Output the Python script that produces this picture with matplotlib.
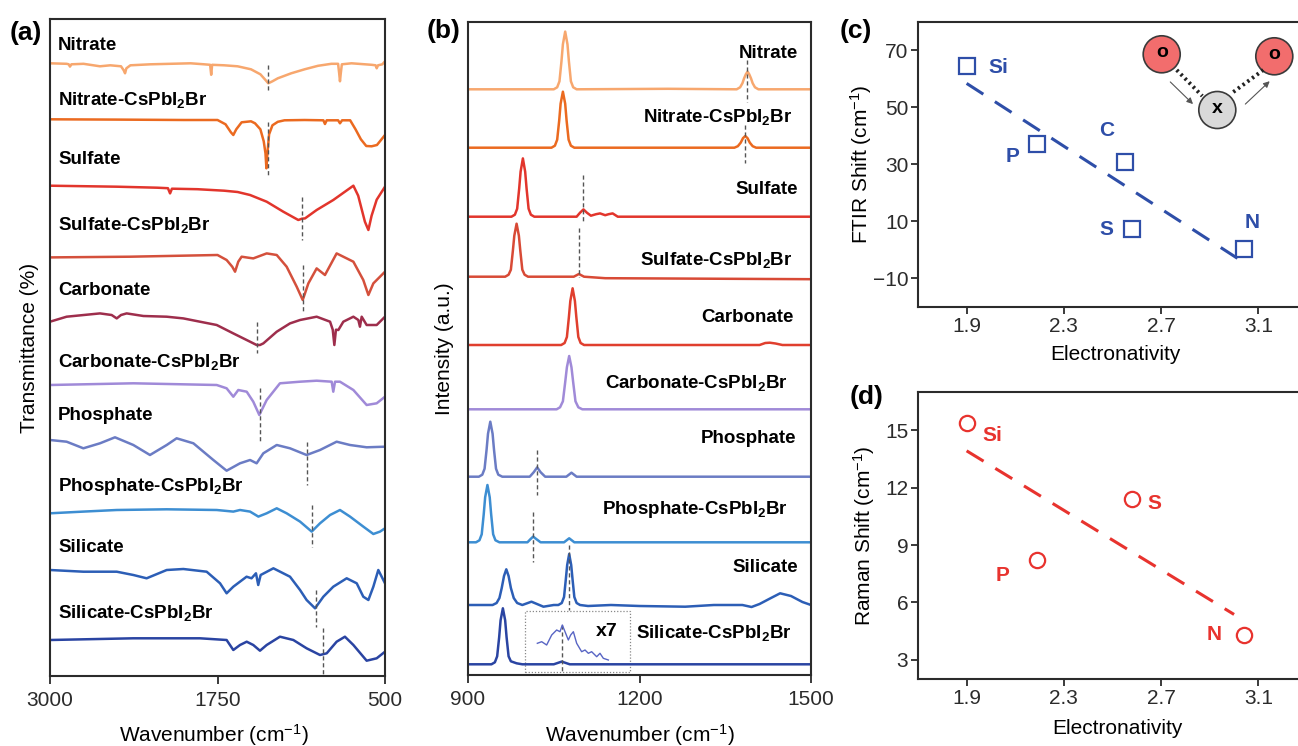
import matplotlib
matplotlib.use("Agg")
import matplotlib.pyplot as plt
from matplotlib.patches import Circle, Rectangle, FancyArrowPatch
import numpy as np

W, H = 1298, 746

plt.rcParams.update({
    "font.family": "Liberation Sans",
    "mathtext.fontset": "custom",
    "mathtext.rm": "Liberation Sans",
    "mathtext.bf": "Liberation Sans:bold",
    "mathtext.it": "Liberation Sans:italic",
    "axes.linewidth": 1.5,
    "axes.edgecolor": "#2b2b2b",
    "xtick.color": "#2b2b2b",
    "ytick.color": "#2b2b2b",
    "xtick.major.width": 1.3,
    "ytick.major.width": 1.3,
})

# ---------------- data ----------------
LABELS = ["Nitrate", r"Nitrate-CsPbI$_\mathbf{2}$Br",
          "Sulfate", r"Sulfate-CsPbI$_\mathbf{2}$Br",
          "Carbonate", r"Carbonate-CsPbI$_\mathbf{2}$Br",
          "Phosphate", r"Phosphate-CsPbI$_\mathbf{2}$Br",
          "Silicate", r"Silicate-CsPbI$_\mathbf{2}$Br"]

COLORS_A = ["#f7a76e", "#eb6a20", "#e2352c", "#d4503c", "#9e2e4c",
            "#a08ad8", "#6b7cc4", "#3d8ed2", "#2c5eb6", "#2a44a2"]
COLORS_B = ["#f7a76e", "#eb6a20", "#e2352c", "#d84a36", "#e03f2e",
            "#a08ad8", "#6b7cc4", "#3d8ed2", "#2c5eb6", "#2a44a2"]

# FTIR (wavenumber, relative transmittance)
FTIR_NITRATE = [(3000, 0), (2876, -0.5), (2860, -1), (2851, -3.3), (2840, -1), (2750, -0.5),
                (2627, -3), (2550, -2), (2470, -3), (2450, -7), (2440, -10), (2430, -5),
                (2400, -2), (2250, -1), (2100, -0.5), (1950, 0), (1850, -1), (1805, -1.5),
                (1797, -11.5), (1790, -1.5), (1700, -2), (1600, -3), (1500, -6), (1430, -11),
                (1390, -17), (1371, -20), (1340, -18), (1300, -15), (1200, -10), (1100, -6),
                (1000, -2.5), (900, -0.5), (850, -0.5), (842, -10), (836, -18), (830, -10),
                (822, -1), (750, 0), (650, -1), (600, -1.5), (570, -2), (562, -5), (552, -2),
                (520, -1), (500, 2)]
FTIR_NITRATE_CS = [(3000, 0), (2500, -0.3), (2000, -0.7), (1750, -0.7), (1690, -5), (1650, -13),
                   (1632, -15.7), (1610, -10), (1570, -3), (1500, -2), (1470, -4), (1430, -10),
                   (1405, -22), (1392, -34), (1385, -49), (1378, -35), (1365, -15), (1340, -6),
                   (1300, -2.5), (1250, -1), (1100, -0.7), (960, -1), (948, -4.7), (935, -1),
                   (850, -1), (836, -4), (820, -1), (760, -1), (720, -10), (680, -20),
                   (640, -26.7), (600, -27), (560, -25.7), (500, -15.7)]
FTIR_SULFATE = [(3000, 0), (2500, -1), (2200, -2), (2120, -2.5), (2104, -7.7), (2090, -3),
                (1900, -3.5), (1700, -5), (1600, -6.3), (1507, -9.3), (1383, -16), (1259, -26),
                (1147, -34.3), (1120, -33), (1097, -32.7), (1010, -24.3), (886, -14.3),
                (736, 0), (700, -10), (650, -36), (624, -44.3), (600, -30), (562, -14), (500, -1)]
FTIR_SULFATE_CS = [(3000, -0.7), (2400, 0), (1750, 1.7), (1682, -3.3), (1640, -10), (1619, -15),
                   (1595, -5), (1570, 0), (1520, -1), (1483, -1.7), (1383, 3.3), (1308, 1.7),
                   (1234, -10), (1159, -30), (1114, -43.3), (1072, -26.7), (1010, -11.7),
                   (948, -18.3), (861, 3.3), (736, -5), (662, -23.3), (624, -38.3), (587, -26.7),
                   (500, -15)]
FTIR_CARBONATE = [(3000, 0), (2876, 5), (2627, 8.3), (2540, 6.7), (2502, 3.3), (2470, 6.7),
                  (2428, 8.3), (2303, 5.7), (2129, 5), (2005, 3.3), (1881, 0), (1756, -3.3),
                  (1632, -11.7), (1507, -20), (1458, -23.3), (1433, -23.3), (1408, -21.7),
                  (1308, -10), (1209, -1.7), (1134, 1.7), (1010, 5), (910, 0), (890, -8),
                  (878, -23.3), (866, -8), (848, -8.3), (811, 0), (736, 5), (699, 1.7),
                  (687, -5), (674, 5), (637, -3.3), (562, -3.3), (500, 5)]
FTIR_CARBONATE_CS = [(3000, 0), (2378, 1.7), (1756, 0), (1682, -3.3), (1632, -11.7), (1595, -5),
                     (1532, -6.7), (1483, -16.7), (1438, -30), (1383, -15), (1284, 1.7),
                     (1134, 3.3), (1010, 4.3), (898, 3.3), (886, -6.7), (873, 3.3), (836, 3.3),
                     (736, -5), (637, -20), (562, -18.3), (500, -11.7)]
FTIR_PHOSPHATE = [(3000, 0), (2876, -1.7), (2751, -8.3), (2627, -3.3), (2515, 2.7), (2378, -5),
                  (2254, -15), (2129, -5), (2055, 1.7), (1930, -3.3), (1781, -20), (1682, -30.7),
                  (1582, -23.3), (1507, -20), (1458, -23.3), (1408, -13.3), (1308, -5),
                  (1209, -8.3), (1085, -15), (985, -10), (861, -1.7), (761, -5), (637, -7.3),
                  (500, -6.7)]
FTIR_PHOSPHATE_CS = [(3000, 0), (2751, 1.7), (2502, 3.3), (2129, 4), (1756, 3.3), (1632, 1.7),
                     (1582, 3.3), (1507, 1.7), (1445, -3.3), (1383, 0), (1308, 5), (1234, 0),
                     (1134, -8.3), (1047, -18.3), (985, -10), (910, -1.7), (836, 3.3), (761, -3.3),
                     (662, -13.3), (587, -20.7), (537, -18.3), (500, -15)]
FTIR_SILICATE = [(3000, 0), (2751, -1.7), (2502, -1.7), (2378, -5), (2279, -8.3), (2129, 0),
                 (2005, 1), (1831, -1.7), (1731, -13.3), (1682, -23.3), (1632, -16.7),
                 (1533, -6.7), (1496, -8.3), (1463, -3.3), (1446, -15), (1428, -5), (1333, 1.7),
                 (1209, -6.7), (1134, -20), (1085, -30), (1022, -38.3), (960, -26.7),
                 (886, -16.7), (786, -8.3), (711, -13.3), (662, -26.7), (624, -30), (587, -16.7),
                 (550, 0), (500, -13.3)]
FTIR_SILICATE_CS = [(3000, 0), (2378, 1.7), (1881, 1.7), (1682, 0), (1632, -10), (1582, -5),
                    (1532, -1.7), (1483, -5), (1433, -10.7), (1383, -5), (1284, 3.3), (1184, 0),
                    (1085, -8.3), (985, -15), (935, -13.3), (861, -1.7), (799, 3.3), (736, -5),
                    (637, -20.7), (562, -18.3), (500, -11.7)]
FTIR = [FTIR_NITRATE, FTIR_NITRATE_CS, FTIR_SULFATE, FTIR_SULFATE_CS, FTIR_CARBONATE,
        FTIR_CARBONATE_CS, FTIR_PHOSPHATE, FTIR_PHOSPHATE_CS, FTIR_SILICATE, FTIR_SILICATE_CS]
FTIR_MARK = [1375, 1375, 1122, 1109, 1453, 1433, 1080, 1042, 1015, 965]

# Raman (wavenumber, relative intensity)
RAMAN_NITRATE = [(900, 0), (1050, 0), (1056, 2), (1060, 8), (1063.5, 28), (1066, 45), (1070, 57.7),
                 (1074, 45), (1076.5, 28), (1080, 8), (1084, 2), (1090, 0), (1250, 0.5),
                 (1370, 0), (1376, 2), (1380, 6), (1383, 11), (1386, 15), (1389, 17.7),
                 (1392, 15), (1395, 11), (1398, 6), (1402, 2), (1408, 0), (1500, 0)]
RAMAN_NITRATE_CS = [(900, 0), (1046, 0), (1052, 2), (1056, 8), (1059.5, 27), (1062, 44), (1066, 56),
                    (1070, 44), (1072.5, 27), (1076, 8), (1080, 2), (1086, 0), (1366, 0),
                    (1372, 1.5), (1377, 5), (1381, 9.5), (1385, 11.7), (1389, 9.5), (1393, 5),
                    (1398, 1.5), (1404, 0), (1500, 0)]
RAMAN_SULFATE = [(900, 0), (976, 0), (982, 2), (986, 8), (989.5, 28), (992, 45), (996, 58.3),
                 (1000, 45), (1002.5, 28), (1006, 8), (1010, 2), (1016, 0), (1090, 0), (1096, 4),
                 (1102, 7.3), (1108, 4), (1115, 1), (1124, 2.5), (1131, 3.3), (1140, 1.5),
                 (1146, 2.5), (1153, 3.3), (1162, 0), (1500, 0)]
RAMAN_SULFATE_CS = [(900, 0), (965, 0), (971, 2), (975, 7), (978.5, 26), (981, 41), (985, 53),
                    (989, 41), (991.5, 26), (995, 7), (999, 2), (1005, 0), (1085, 0), (1094, 2.7),
                    (1103, 0), (1140, -1.5), (1500, -2.5)]
RAMAN_CARBONATE = [(900, 0), (1063, 0), (1069, 2), (1073, 8), (1076.5, 28), (1079, 44),
                   (1083, 56.7), (1087, 44), (1089.5, 28), (1093, 8), (1097, 2), (1103, 0),
                   (1410, 0), (1420, 2), (1428, 2.3), (1438, 1.5), (1450, 0), (1500, 0)]
RAMAN_CARBONATE_CS = [(900, 0), (1055, 0), (1061, 2), (1066, 8), (1070, 27), (1073, 42),
                      (1077, 53.3), (1081, 42), (1084, 27), (1088, 8), (1093, 2), (1100, 0),
                      (1500, 0)]
RAMAN_PHOSPHATE = [(900, 0), (919, 0), (925, 2), (929, 8), (932.5, 27), (935, 43), (939, 55),
                   (943, 43), (945.5, 27), (949, 8), (953, 2), (960, 0), (1008, 0), (1015, 4.5),
                   (1021, 9.3), (1027, 4.5), (1035, 0), (1072, 0), (1081, 4), (1090, 0), (1500, 0)]
RAMAN_PHOSPHATE_CS = [(900, 0), (914, 0), (920, 2), (924, 8), (927.5, 28), (930, 45), (934, 57.3),
                      (938, 45), (940.5, 28), (944, 8), (948, 2), (955, 0), (1004, 0), (1009, 3),
                      (1014, 5.7), (1020, 3), (1027, 0), (1068, 0), (1077, 4), (1086, 0), (1500, 0)]
RAMAN_SILICATE = [(900, 0), (943, 0), (950, 2), (955, 7), (959, 17), (963, 29), (967, 35.7),
                  (971, 29), (975, 17), (980, 7), (986, 2), (995, 0), (1011, 3.3), (1032, -1.7),
                  (1050, 0), (1058, 0), (1064, 2), (1068, 8), (1071, 25), (1073.5, 40), (1077, 51),
                  (1080.5, 40), (1083, 25), (1086, 8), (1090, 2), (1096, 0), (1110, -1),
                  (1150, 0), (1200, -1), (1280, -1.7), (1330, 0), (1380, 0), (1396, -2),
                  (1410, 1), (1430, 7), (1446, 11.7), (1465, 9), (1485, 3), (1500, 0)]
RAMAN_SILICATE_CS = [(900, 0), (941, 0), (947, 2), (951, 8), (954.5, 27), (957, 44), (961, 56),
                     (965, 44), (967.5, 27), (971, 8), (975, 3), (985, 1), (995, 0), (1050, 0),
                     (1064, 2.7), (1078, 0), (1500, 0)]
RAMAN = [RAMAN_NITRATE, RAMAN_NITRATE_CS, RAMAN_SULFATE, RAMAN_SULFATE_CS, RAMAN_CARBONATE,
         RAMAN_CARBONATE_CS, RAMAN_PHOSPHATE, RAMAN_PHOSPHATE_CS, RAMAN_SILICATE, RAMAN_SILICATE_CS]
RAMAN_MARK = [1388.6, 1384.6, 1101.8, 1094.2, None, None, 1021.3, 1013.1, 1076.7, 1063.9]

# x7 magnified segment of Silicate-CsPbI2Br
ZOOM_W = [1021.3, 1028.9, 1037.6, 1046.4, 1055.1, 1060.9, 1065.0, 1069.7, 1075.5, 1079.6,
          1084.3, 1090.1, 1098.8, 1104.7, 1110.5, 1116.3, 1125.1, 1130.9, 1136.7, 1145.5]
ZOOM_I = [21, 22.6, 19.3, 29.3, 34.3, 32.6, 39.3, 32.6, 24.3, 29.3,
          32.6, 21, 12.6, 14.3, 11, 12.6, 7.6, 11, 6, 4.3]

# Electronegativity correlations
EL_FTIR = ["Si", "P", "C", "S", "N"]
EN_FTIR = [1.90, 2.19, 2.55, 2.58, 3.04]
FTIR_SHIFT = [64.4, 37.2, 30.8, 7.3, 0.5]
EL_RAMAN = ["Si", "P", "S", "N"]
EN_RAMAN = [1.90, 2.19, 2.58, 3.04]
RAMAN_SHIFT = [15.4, 8.2, 11.4, 4.3]

BLUE = "#2e4ea8"
RED = "#e8332e"
GUIDE = "#555555"
LBL_SIZE = 13.5


def px_rect(l, t, r, b):
    return [l / W, 1 - b / H, (r - l) / W, (b - t) / H]


fig = plt.figure(figsize=(W / 100, H / 100), dpi=100)

# ---------------- (a) FTIR ----------------
ax = fig.add_axes(px_rect(50, 19, 385, 676))
A_TOP, A_BOT = 19, 676
base_a = [63.3, 119.3, 185.7, 256.7, 321.7, 385, 440, 513.3, 570, 640]
label_a = [46, 100, 160, 225, 290, 361.7, 415, 486.7, 548, 613]
guide_a = [(65, 92), (121.7, 175), (196.7, 240), (265, 313), (321.7, 353),
           (388.3, 441.7), (441.7, 485), (505, 546.7), (590, 626.7), (628.3, 675)]
for i, spec in enumerate(FTIR):
    w, t = np.array(spec).T
    off = A_BOT - base_a[i]
    ax.plot(w, t + off, color=COLORS_A[i], lw=1.8)
    ax.text(2940, A_BOT - label_a[i], LABELS[i], fontsize=LBL_SIZE, fontweight="bold",
            ha="left", va="center")
    g0, g1 = guide_a[i]
    ax.plot([FTIR_MARK[i]] * 2, [A_BOT - g0, A_BOT - g1], color=GUIDE, lw=1.0,
            dashes=(3, 2))
ax.set_xlim(3000, 500)
ax.set_ylim(0, A_BOT - A_TOP)
ax.set_xticks([3000, 1750, 500])
ax.set_yticks([])
ax.tick_params(axis="x", labelsize=15, length=6, pad=5)
ax.set_xlabel("Wavenumber (cm$^{-1}$)", fontsize=15, va="center")
ax.xaxis.set_label_coords((214 - 50) / 335, (676 - 735) / 657)
ax.set_ylabel("Transmittance (%)", fontsize=15, va="center")
ax.yaxis.set_label_coords((30 - 50) / 335, 0.5)
fig.text(26 / W, 1 - 33 / H, "(a)", fontsize=19, fontweight="bold", ha="center", va="center")

# ---------------- (b) Raman ----------------
ax = fig.add_axes(px_rect(468, 22, 811, 675))
B_TOP, B_BOT = 22, 675
base_b = [89.3, 147.7, 216.7, 276.7, 345, 409.3, 476.7, 542.3, 605, 664.3]
label_b = [53.3, 116.7, 190, 260, 317.7, 383.3, 438.3, 510, 567.3, 632.7]
right_b = [798, 792, 798, 792, 794, 788, 796, 788, 798, 792]
guide_b = [(60, 101.7), (125, 163.3), (175, 221.7), (228.3, 276.7), None, None,
           (450, 495), (511.7, 561.7), (545, 610), (625, 673)]
to_w = lambda p: 900 + (p - 468) * 600 / 343
for i, spec in enumerate(RAMAN):
    w, r = np.array(spec).T
    off = B_BOT - base_b[i]
    ax.plot(w, r + off, color=COLORS_B[i], lw=1.8)
    ax.text(to_w(right_b[i]), B_BOT - label_b[i], LABELS[i], fontsize=LBL_SIZE,
            fontweight="bold", ha="right", va="center")
    if RAMAN_MARK[i] is not None:
        g0, g1 = guide_b[i]
        ax.plot([RAMAN_MARK[i]] * 2, [B_BOT - g0, B_BOT - g1], color=GUIDE, lw=1.0,
                dashes=(3, 2))
off = B_BOT - base_b[9]
ax.plot(ZOOM_W, np.array(ZOOM_I) + off, color="#5865c4", lw=1.0)
ax.add_patch(Rectangle((1000, B_BOT - 671.7), 183, 60.7, fill=False, ec="#888888",
                       lw=0.9, ls=(0, (1, 1.5))))
ax.text(to_w(607), B_BOT - 631.7, "x7", fontsize=14, fontweight="bold",
        ha="center", va="center")
ax.set_xlim(900, 1500)
ax.set_ylim(0, B_BOT - B_TOP)
ax.set_xticks([900, 1200, 1500])
ax.set_yticks([])
ax.tick_params(axis="x", labelsize=15, length=6, pad=5)
ax.set_xlabel("Wavenumber (cm$^{-1}$)", fontsize=15, va="center")
ax.xaxis.set_label_coords((640 - 468) / 343, (675 - 735) / 653)
ax.set_ylabel("Intensity (a.u.)", fontsize=15, va="center")
ax.yaxis.set_label_coords((445 - 468) / 343, 0.5)
fig.text(444 / W, 1 - 31 / H, "(b)", fontsize=19, fontweight="bold", ha="center", va="center")


# ---------------- (c), (d) correlations ----------------
def corr_panel(rect, en, shift, names, color, marker, xfit, offsets):
    ax = fig.add_axes(rect)
    ax.plot(en, shift, ls="none", marker=marker, ms=11, mfc="none", mec=color, mew=1.6)
    k, b = np.polyfit(en, shift, 1)
    xs = np.array(xfit)
    ax.plot(xs, k * xs + b, color=color, lw=2.2, dashes=(6.5, 4.5))
    for n, x, y, (dx, dy) in zip(names, en, shift, offsets):
        ax.annotate(n, (x, y), xytext=(dx, dy), textcoords="offset pixels",
                    fontsize=15, fontweight="bold", color=color, ha="center", va="center")
    ax.set_xlim(1.7, 3.3)
    ax.set_xticks([1.9, 2.3, 2.7, 3.1])
    ax.spines["right"].set_visible(False)
    ax.tick_params(axis="x", labelsize=15, length=5, pad=2)
    ax.tick_params(axis="y", labelsize=15, length=5, pad=2)
    return ax


ax = corr_panel(px_rect(918, 22, 1307, 307), EN_FTIR, FTIR_SHIFT, EL_FTIR, BLUE, "s",
                [1.9, 3.05], [(32, -1), (-25, -13), (-18, 32), (-26, 0), (8, 26)])
ax.set_ylim(-20, 80)
ax.set_yticks([-10, 10, 30, 50, 70])
ax.set_xlabel("Electronativity", fontsize=15, va="center")
ax.xaxis.set_label_coords((1115 - 918) / 389, (307 - 355) / 285)
ax.set_ylabel("FTIR Shift (cm$^{-1}$)", fontsize=15, va="center")
ax.yaxis.set_label_coords((861 - 918) / 389, 0.5)
fig.text(856 / W, 1 - 31 / H, "(c)", fontsize=19, fontweight="bold", ha="center", va="center")

ax = corr_panel(px_rect(918, 392, 1307, 679), EN_RAMAN, RAMAN_SHIFT, EL_RAMAN, RED, "o",
                [1.9, 3.0], [(26, -13), (-35, -15), (22, -4), (-30, 0)])
ax.set_ylim(2, 17)
ax.set_yticks([3, 6, 9, 12, 15])
ax.set_xlabel("Electronativity", fontsize=15, va="center")
ax.xaxis.set_label_coords((1117 - 918) / 389, (679 - 728) / 287)
ax.set_ylabel("Raman Shift (cm$^{-1}$)", fontsize=15, va="center")
ax.yaxis.set_label_coords((864 - 918) / 389, 0.5)
fig.text(867 / W, 1 - 397 / H, "(d)", fontsize=19, fontweight="bold", ha="center", va="center")

# schematic O-X-O inset
ins = fig.add_axes(px_rect(1130, 28, 1298, 136))
ins.set_xlim(1130, 1298)
ins.set_ylim(136, 28)
ins.axis("off")
for (cx, cy, fc, t) in [(1161.7, 54.3, "#f26d6d", "o"), (1274.3, 56.3, "#f26d6d", "o"),
                        (1217.3, 110, "#d9d9d9", "x")]:
    ins.add_patch(Circle((cx, cy), 18.5, fc=fc, ec="#3a3a3a", lw=1.2))
    ins.text(cx, cy - 1.5, t, fontsize=14, fontweight="bold", ha="center", va="center")
ins.plot([1176.7, 1202.3], [70, 96], color="#222222", lw=2.8, ls=(0, (0.6, 0.9)))
ins.plot([1233.3, 1263.3], [92, 70], color="#222222", lw=2.8, ls=(0, (0.6, 0.9)))
ins.add_patch(FancyArrowPatch((1168.3, 80), (1195, 106), arrowstyle="-|>", mutation_scale=9,
                              color="#555555", lw=0.8))
ins.add_patch(FancyArrowPatch((1243.3, 106), (1271.7, 79.3), arrowstyle="-|>", mutation_scale=9,
                              color="#555555", lw=0.8))

fig.savefig("out.png", dpi=100)
